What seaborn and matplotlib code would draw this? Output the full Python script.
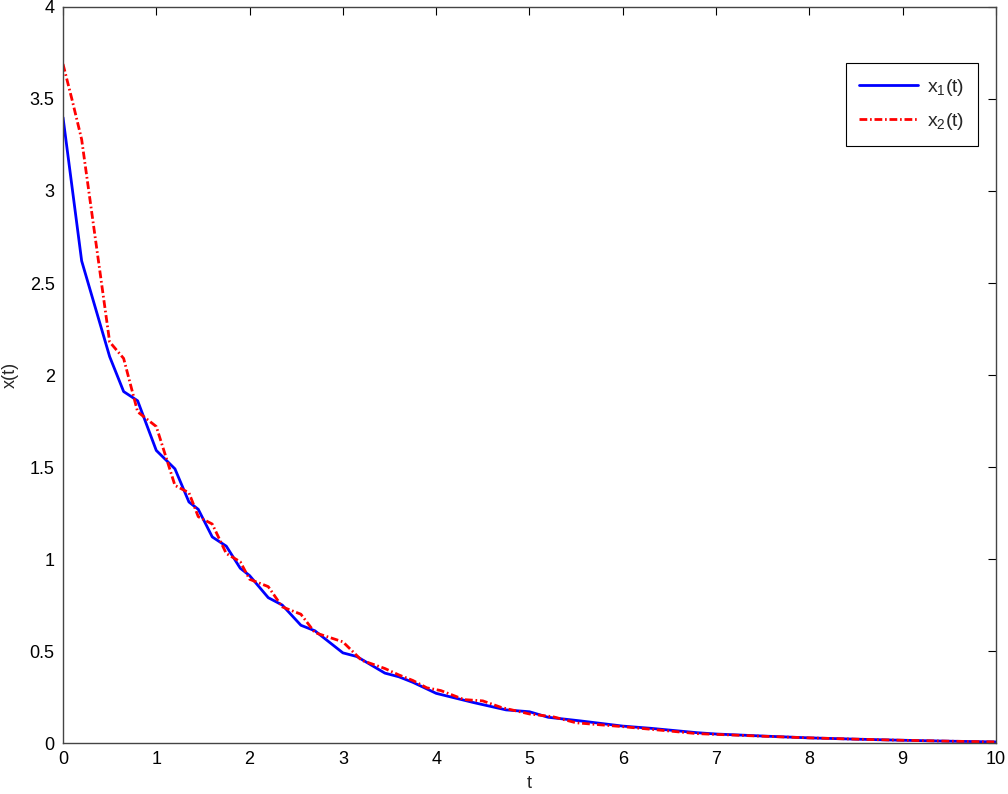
import matplotlib
matplotlib.use('Agg')
import matplotlib.pyplot as plt
import seaborn as sns
import pandas as pd

# data
t_x1 = [0, 0.2, 0.5, 0.65, 0.8, 1.0, 1.2, 1.35, 1.45, 1.6, 1.75, 1.9, 2.0, 2.2, 2.35,
        2.55, 2.7, 3.0, 3.15, 3.45, 3.6, 3.75, 4.0, 4.4, 4.75, 5.0, 5.2, 5.55, 6.0,
        6.3, 6.8, 7.0, 7.5, 8.0, 8.5, 9.0, 9.5, 10.0]
x1 = [3.40, 2.62, 2.10, 1.91, 1.86, 1.59, 1.49, 1.31, 1.27, 1.12, 1.07, 0.95, 0.91,
      0.79, 0.75, 0.64, 0.61, 0.49, 0.47, 0.38, 0.36, 0.33, 0.27, 0.22, 0.18, 0.17,
      0.14, 0.12, 0.092, 0.08, 0.056, 0.049, 0.038, 0.028, 0.021, 0.015, 0.010, 0.006]

t_x2 = [0, 0.1, 0.2, 0.5, 0.65, 0.8, 1.0, 1.2, 1.35, 1.45, 1.6, 1.75, 1.9, 2.0, 2.2,
        2.35, 2.55, 2.7, 3.0, 3.2, 3.45, 3.6, 3.75, 3.9, 4.05, 4.3, 4.5, 4.7, 5.0,
        5.25, 5.5, 6.0, 6.8, 7.0, 7.5, 8.0, 8.5, 9.0, 9.5, 10.0]
x2 = [3.69, 3.49, 3.28, 2.18, 2.09, 1.80, 1.72, 1.40, 1.36, 1.23, 1.19, 1.03, 0.985,
      0.89, 0.85, 0.74, 0.70, 0.60, 0.55, 0.45, 0.405, 0.37, 0.34, 0.30, 0.285, 0.236,
      0.229, 0.193, 0.158, 0.143, 0.11, 0.089, 0.051, 0.047, 0.037, 0.028, 0.021,
      0.015, 0.010, 0.006]

x_ticks = [0, 1, 2, 3, 4, 5, 6, 7, 8, 9, 10]
y_ticks = [0, 0.5, 1, 1.5, 2, 2.5, 3, 3.5, 4]

df1 = pd.DataFrame({'t': t_x1, 'x': x1})
df2 = pd.DataFrame({'t': t_x2, 'x': x2})

sns.set_style('white')
plt.rcParams['font.family'] = ['Liberation Sans', 'DejaVu Sans']
plt.rcParams['mathtext.default'] = 'regular'

fig = plt.figure(figsize=(10.08, 7.94), dpi=100)
ax = fig.add_axes([0.0625, 0.0642, 0.9255, 0.9270])

sns.lineplot(data=df1, x='t', y='x', ax=ax, color='#0000ff', linewidth=2.0,
             label='$x_1$(t)')
sns.lineplot(data=df2, x='t', y='x', ax=ax, color='#ff0000', linewidth=2.0,
             label='$x_2$(t)')
ax.lines[1].set_dashes((2.8, 1.0, 0.6, 1.0))

ax.set_xlim(0, 10)
ax.set_ylim(0, 4)
ax.set_xticks(x_ticks)
ax.set_yticks(y_ticks)
ax.set_xticklabels([str(v) for v in x_ticks])
ax.set_yticklabels(['0', '0.5', '1', '1.5', '2', '2.5', '3', '3.5', '4'])
ax.tick_params(direction='in', length=6, width=0.8, top=True, right=True,
               labelsize=13, colors='black', pad=6)
ax.set_xlabel('t', fontsize=13, labelpad=5)
ax.set_ylabel('x(t)', fontsize=13, labelpad=8)
for s in ax.spines.values():
    s.set_color('#444444')
    s.set_linewidth(1.0)

leg = ax.legend(loc='upper right', bbox_to_anchor=(0.981, 0.924), borderaxespad=0,
                fontsize=14, handlelength=3.0, handletextpad=0.5, fancybox=False,
                framealpha=1, edgecolor='black', borderpad=0.7, labelspacing=0.7)
leg.get_frame().set_linewidth(0.8)

plt.savefig('out.png', dpi=100)
